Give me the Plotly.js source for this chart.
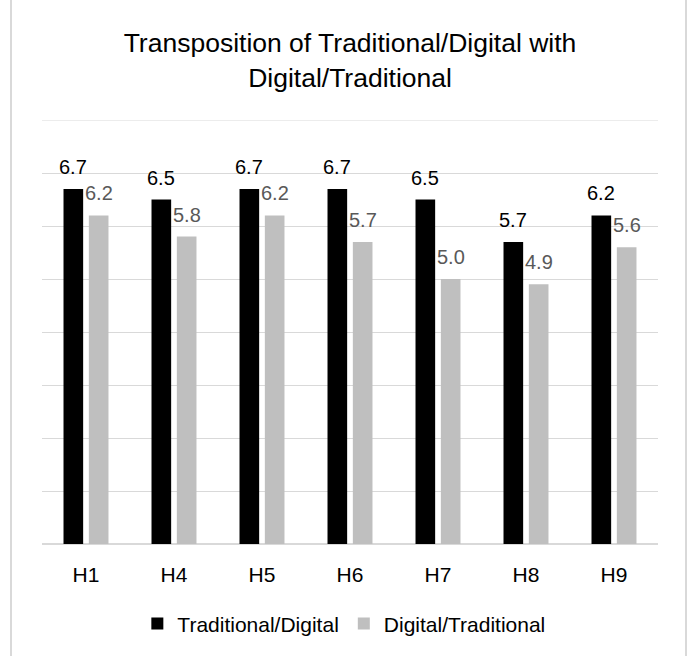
<!DOCTYPE html>
<html>
<head>
<meta charset="utf-8">
<script src="https://cdn.plot.ly/plotly-3.0.1.min.js"></script>
<style>
  html, body { margin: 0; padding: 0; background: #fff; }
  #wrap { position: relative; width: 691px; height: 656px; overflow: hidden; }
  #chart { position: absolute; left: 0; top: 0; width: 691px; height: 656px; }
  #frame { position: absolute; left: 10px; top: -4px; width: 673px; height: 670px;
           border: 2px solid #d9d9d9; pointer-events: none; }
</style>
</head>
<body>
<div id="wrap">
  <div id="chart"></div>
  <div id="frame"></div>
</div>
<script>
const categories = ["H1", "H4", "H5", "H6", "H7", "H8", "H9"];
const traditionalDigital = [6.7, 6.5, 6.7, 6.7, 6.5, 5.7, 6.2];
const digitalTraditional = [6.2, 5.8, 6.2, 5.7, 5.0, 4.9, 5.6];
const seriesNames = ["Traditional/Digital", "Digital/Traditional"];
const titleText = "Transposition of Traditional/Digital with<br>Digital/Traditional";
const yMax = 8;

const FONT = "Liberation Sans, Arial, sans-serif";

const traces = [
  { type: "bar", name: seriesNames[0], x: categories, y: traditionalDigital,
    marker: { color: "#000000" }, hoverinfo: "x+y" },
  { type: "bar", name: seriesNames[1], x: categories, y: digitalTraditional,
    marker: { color: "#bfbfbf" }, hoverinfo: "x+y" }
];

function labels(vals, shift, color) {
  return vals.map((v, i) => ({
    x: categories[i], y: v, xref: "x", yref: "y",
    text: v.toFixed(1), showarrow: false,
    xshift: shift, yshift: 9, yanchor: "bottom", xanchor: "center",
    font: { family: FONT, size: 20, color: color }
  }));
}

const annotations = [].concat(
  labels(traditionalDigital, -12.7, "#000000"),
  labels(digitalTraditional, 12.7, "#595959")
);

const layout = {
  width: 691, height: 656,
  margin: { l: 42, r: 33, t: 120, b: 106, pad: 0 },
  paper_bgcolor: "#ffffff", plot_bgcolor: "#ffffff",
  font: { family: FONT, color: "#000000" },
  title: { text: titleText, font: { family: FONT, size: 26.5, color: "#000000" },
           x: 0.5, xref: "paper", xanchor: "center", y: 0.92, yref: "container", yanchor: "top" },
  barmode: "group", bargap: 0.424, bargroupgap: 0.225,
  xaxis: { type: "category", showgrid: false, showline: false, ticks: "",
           ticklabelstandoff: 16,
           tickfont: { family: FONT, size: 21, color: "#000000" }, fixedrange: true },
  yaxis: { range: [0, yMax], tick0: 0, dtick: 1, showgrid: true, gridcolor: "#d9d9d9", gridwidth: 1,
           zeroline: true, zerolinecolor: "#d9d9d9", zerolinewidth: 1.5,
           showticklabels: false, ticks: "", showline: false, fixedrange: true },
  shapes: [{ type: "line", xref: "paper", yref: "y", x0: 0, x1: 1, y0: yMax, y1: yMax,
             line: { color: "#d9d9d9", width: 1 }, layer: "below" }],
  showlegend: true,
  legend: { orientation: "h", x: 0.49, xanchor: "center", y: -0.14, yanchor: "top",
            font: { family: FONT, size: 21, color: "#000000" }, traceorder: "normal" },
  annotations: annotations
};

Plotly.newPlot("chart", traces, layout, { displayModeBar: false, staticPlot: true });
</script>
</body>
</html>
